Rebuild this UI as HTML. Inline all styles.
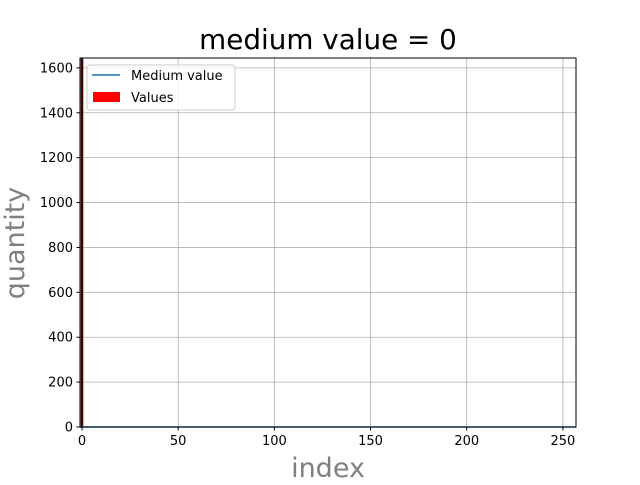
<!DOCTYPE html>
<html><head><meta charset="utf-8"><style>
body{margin:0;background:#fff;}
svg text{font-family:"DejaVu Sans","Liberation Sans",sans-serif;}
</style></head><body>
<svg id="chart" width="640" height="480" xmlns="http://www.w3.org/2000/svg">
<rect width="640" height="480" fill="#fff"/>
<text x="328" y="49" font-size="27.8" text-anchor="middle">medium value = 0</text>
<g id="grid"></g>
<g id="bars"></g>
<g id="medline"></g>
<rect x="80" y="58" width="496" height="369" fill="none" stroke="#000" stroke-width="1"/>
<g id="ticks"></g>
<text x="328" y="477" font-size="27" fill="#808080" text-anchor="middle">index</text>
<text x="0" y="0" font-size="27" fill="#808080" text-anchor="middle" transform="translate(24,243) rotate(-90)">quantity</text>
<g>
<rect x="87" y="65" width="148" height="45" rx="3" fill="#fff" fill-opacity="0.8" stroke="#ccc"/>
<line x1="92" y1="75" x2="120" y2="75" stroke="#1f77b4" stroke-width="1.5"/>
<text x="131" y="80" font-size="13">Medium value</text>
<rect x="93" y="92" width="27" height="10" fill="#ff0000"/>
<text x="131" y="102" font-size="13">Values</text>
</g>
</svg>
<script>
const categories = [0];
const values = [1644];
const mediumValue = [0];
const xTicks = [0, 50, 100, 150, 200, 250];
const yTicks = [0, 200, 400, 600, 800, 1000, 1200, 1400, 1600];
const X0=80,X1=576,Y0=427,Y1=58,XMIN=-1.04,XMAX=256.8,YMIN=0,YMAX=1644;
const NS="http://www.w3.org/2000/svg";
function sx(v){return X0+(v-XMIN)/(XMAX-XMIN)*(X1-X0);}
function sy(v){return Y0-(v-YMIN)/(YMAX-YMIN)*(Y0-Y1);}
function mk(t,a,p){const e=document.createElementNS(NS,t);for(const k in a)e.setAttribute(k,a[k]);p.appendChild(e);return e;}
const grid=document.getElementById('grid'),ticks=document.getElementById('ticks');
xTicks.forEach(v=>{const x=sx(v);
 const g=mk('line',{x1:x,x2:x,y1:Y1,y2:Y0,stroke:'#b0b0b0','stroke-width':0.8},grid);
 
 
 const t=mk('line',{x1:x,x2:x,y1:Y0,y2:Y0+3.5,stroke:'#000'},ticks);
 
 
 const l=mk('text',{x:x,y:Y0+18,'font-size':13,'text-anchor':'middle'},ticks);l.textContent=v;
 
 
});
yTicks.forEach(v=>{const y=sy(v);
 const g=mk('line',{x1:X0,x2:X1,y1:y,y2:y,stroke:'#b0b0b0','stroke-width':0.8},grid);
 
 
 const t=mk('line',{x1:X0-3.5,x2:X0,y1:y,y2:y,stroke:'#000'},ticks);
 
 
 const l=mk('text',{x:X0-7,y:y+4.5,'font-size':13,'text-anchor':'end'},ticks);l.textContent=v;
 
 
});
const bars=document.getElementById('bars');
categories.forEach((c,i)=>{const xl=sx(c-0.4),xr=sx(c+0.4),yt=sy(values[i]);
 const b=mk('rect',{x:xl,y:yt,width:xr-xl,height:sy(0)-yt,fill:'#ff0000',stroke:'#000','stroke-width':1},bars);
 
 
});
const ml=mk('line',{x1:X0,x2:X1,y1:sy(mediumValue[0]),y2:sy(mediumValue[0]),stroke:'#1f77b4','stroke-width':1.5},document.getElementById('medline'));


</script>
</body></html>
